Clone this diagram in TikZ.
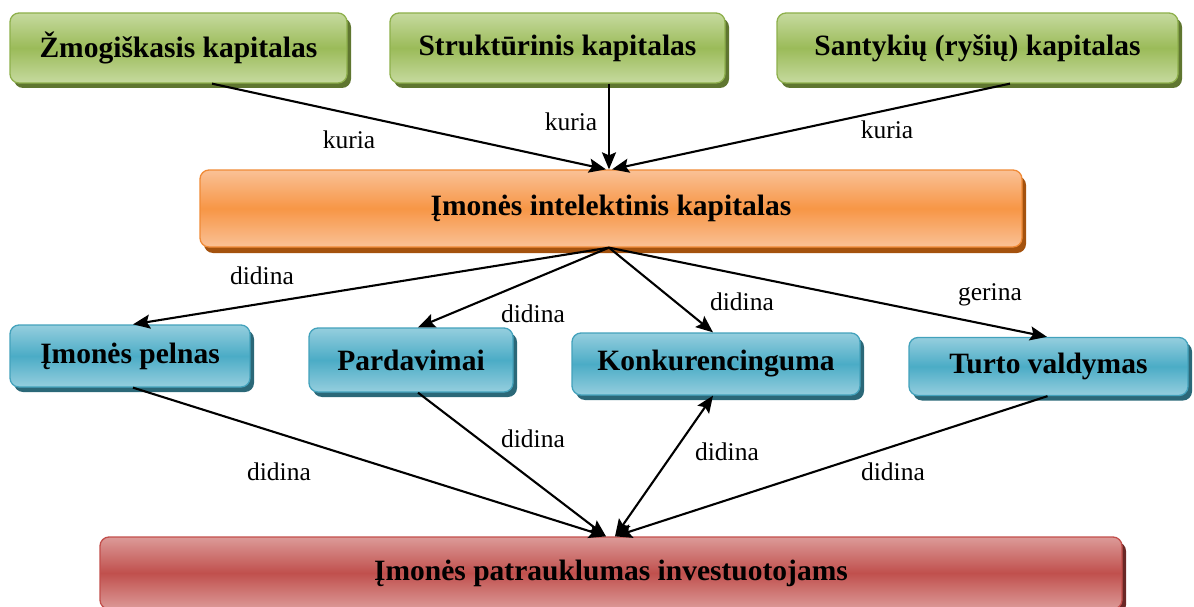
\documentclass[tikz,border=0pt]{standalone}
\usepackage{fontspec}
\setmainfont{Liberation Serif}
\usetikzlibrary{arrows.meta,shadows}
\definecolor{gLight}{HTML}{C6DA9F}
\definecolor{gMid}{HTML}{9BBB59}
\definecolor{gLine}{HTML}{8EB04C}
\definecolor{gShadow}{HTML}{5F7630}
\definecolor{oLight}{HTML}{FAC196}
\definecolor{oMid}{HTML}{F79646}
\definecolor{oLine}{HTML}{F08A36}
\definecolor{oShadow}{HTML}{A4520E}
\definecolor{bLight}{HTML}{95CEDE}
\definecolor{bMid}{HTML}{4BACC6}
\definecolor{bLine}{HTML}{43A2BC}
\definecolor{bShadow}{HTML}{2B6878}
\definecolor{rLight}{HTML}{DC9A98}
\definecolor{rMid}{HTML}{C0504D}
\definecolor{rLine}{HTML}{C24E4B}
\definecolor{rShadow}{HTML}{6A2826}
\tikzset{
  box/.style={rounded corners=9pt, inner sep=0pt, line width=1.3pt,
    font=\fontsize{29.5}{31}\selectfont\bfseries, text=black},
  greenbox/.style={box, draw=gLine, top color=gLight, bottom color=gLight, middle color=gMid,
    drop shadow={shadow xshift=4pt, shadow yshift=-5pt, fill=gShadow, opacity=1}},
  orangebox/.style={box, draw=oLine, top color=oLight, bottom color=oLight, middle color=oMid,
    drop shadow={shadow xshift=4pt, shadow yshift=-6pt, fill=oShadow, opacity=1}},
  bluebox/.style={box, draw=bLine, top color=bLight, bottom color=bLight, middle color=bMid,
    drop shadow={shadow xshift=4pt, shadow yshift=-5pt, fill=bShadow, opacity=1}},
  redbox/.style={box, draw=rLine, top color=rLight, bottom color=rLight, middle color=rMid,
    drop shadow={shadow xshift=4pt, shadow yshift=-5pt, fill=rShadow, opacity=1}},
  conn/.style={line width=2.1pt, -{Stealth[length=17pt,width=14pt,inset=3pt]}},
  biconn/.style={line width=2.1pt, {Stealth[length=17pt,width=14pt,inset=3pt]}-{Stealth[length=17pt,width=14pt,inset=3pt]}},
  lbl/.style={font=\fontsize{25.5}{28}\selectfont, inner sep=0pt}
}
\begin{document}
\begin{tikzpicture}[x=1pt,y=-1pt]
\useasboundingbox (0,0) rectangle (1194,607);
% top boxes
\node[greenbox, minimum width=337pt, minimum height=70pt] (g1) at (178.5,48) {Žmogiškasis kapitalas};
\node[greenbox, minimum width=335pt, minimum height=70pt] (g2) at (557.5,48) {Struktūrinis kapitalas};
\node[greenbox, minimum width=401pt, minimum height=70pt] (g3) at (977.5,48) {Santykių (ryšių) kapitalas};
% middle
\node[orangebox, minimum width=822pt, minimum height=77pt] (oi) at (611,208.5) {Įmonės intelektinis kapitalas};
% blue
\node[bluebox, minimum width=240pt, minimum height=62pt] (b1) at (130,356) {Įmonės pelnas};
\node[bluebox, minimum width=204pt, minimum height=64pt] (b2) at (411,360) {Pardavimai};
\node[bluebox, minimum width=288pt, minimum height=62pt] (b3) at (716,364) {Konkurencinguma};
\node[bluebox, minimum width=279pt, minimum height=58pt] (b4) at (1048.5,366.5) {Turto valdymas};
% bottom
\node[redbox, minimum width=1022pt, minimum height=72pt] (rb) at (611,573) {Įmonės patrauklumas investuotojams};
% arrows top
\draw[conn] ([xshift=33.5pt]g1.south) -- ([xshift=-5pt]oi.north);
\draw[conn] ([xshift=51.5pt]g2.south) -- ([xshift=-2pt]oi.north);
\draw[conn] ([xshift=32.5pt]g3.south) -- ([xshift=1pt]oi.north);
% arrows middle
\draw[conn] ([xshift=-2pt]oi.south) -- ([xshift=3pt]b1.north);
\draw[conn] ([xshift=-2pt]oi.south) -- ([xshift=7pt]b2.north);
\draw[conn] ([xshift=-2pt]oi.south) -- ([xshift=-3pt]b3.north);
\draw[conn] ([xshift=-2pt]oi.south) -- ([xshift=-1.5pt]b4.north);
% arrows bottom
\draw[conn] ([xshift=3pt]b1.south) -- ([xshift=-5pt]rb.north);
\draw[conn] ([xshift=7pt]b2.south) -- ([xshift=-5pt]rb.north);
\draw[biconn] ([xshift=-3pt]b3.south) -- ([xshift=4pt]rb.north);
\draw[conn] ([xshift=-1pt]b4.south) -- ([xshift=4pt]rb.north);
% labels
\node[lbl] (k1) at (349,140) {kuria};
\node[lbl] (k2) at (571,122) {kuria};
\node[lbl] (k3) at (887,130) {kuria};
\node[lbl] (d1) at (262,276) {didina};
\node[lbl] (d2) at (533,314) {didina};
\node[lbl] (d3) at (742,302) {didina};
\node[lbl] (d4) at (990,295) {gerina};
\node[lbl] (d5) at (279,472) {didina};
\node[lbl] (d6) at (533,439) {didina};
\node[lbl] (d7) at (727,452) {didina};
\node[lbl] (d8) at (893,472) {didina};
\end{tikzpicture}
\end{document}
